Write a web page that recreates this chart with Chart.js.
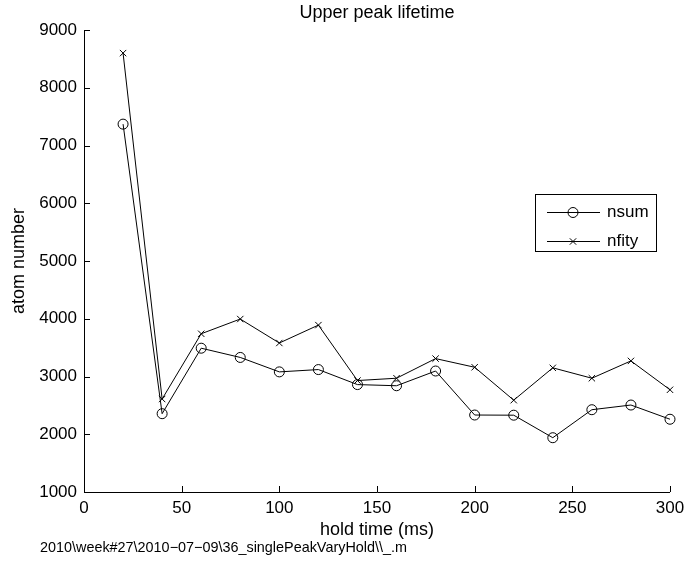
<!DOCTYPE html>
<html>
<head>
<meta charset="utf-8">
<title>Upper peak lifetime</title>
<script src="https://cdn.jsdelivr.net/npm/chart.js@4.4.0/dist/chart.umd.min.js"></script>
<style>
    html, body { margin: 0; padding: 0; background: #fff; }
    #wrap { width: 685px; height: 563px; position: relative; }
</style>
</head>
<body>
<div id="wrap"><canvas id="lifetimeChart"></canvas></div>
<script>
// Data
const holdTime = [20, 40, 60, 80, 100, 120, 140, 160, 180, 200, 220, 240, 260, 280, 300];
const nsum = [7370, 2356, 3490, 3330, 3080, 3120, 2860, 2840, 3095, 2333, 2330, 1940, 2425, 2506, 2260];
const nfity = [8600, 2610, 3740, 3995, 3580, 3890, 2930, 2970, 3310, 3160, 2590, 3150, 2970, 3270, 2770];
const xTicks = [0, 50, 100, 150, 200, 250, 300];
const yTicks = [1000, 2000, 3000, 4000, 5000, 6000, 7000, 8000, 9000];

const titleText = 'Upper peak lifetime';
const xLabel = 'hold time (ms)';
const yLabel = 'atom number';
const footerText = '2010\\week#27\\2010\u221207\u221209\\36_singlePeakVaryHold\\\\_.m';

const FONT = "'Liberation Sans', Arial, Helvetica, sans-serif";

function toPoints(xs, ys) {
    return xs.map((x, i) => ({ x: x, y: ys[i] }));
}

// matlab style axes (left + bottom, inward ticks), texts and legend box
const matlabDecor = {
    id: 'matlabDecor',
    afterDraw(chart) {
        const ctx = chart.ctx;
        const area = chart.chartArea;
        const xs = chart.scales.x;
        const ys = chart.scales.y;
        ctx.save();
        ctx.strokeStyle = '#000';
        ctx.lineWidth = 1;
        ctx.beginPath();
        ctx.moveTo(area.left + 0.5, area.top);
        ctx.lineTo(area.left + 0.5, area.bottom + 0.5);
        ctx.lineTo(area.right, area.bottom + 0.5);
        xTicks.forEach(v => {
            const px = Math.round(xs.getPixelForValue(v)) + 0.5;
            ctx.moveTo(px, area.bottom);
            ctx.lineTo(px, area.bottom - 6);
        });
        yTicks.forEach(v => {
            const py = Math.round(ys.getPixelForValue(v)) + 0.5;
            ctx.moveTo(area.left, py);
            ctx.lineTo(area.left + 6, py);
        });
        ctx.stroke();

        ctx.fillStyle = '#000';
        ctx.textAlign = 'center';
        ctx.textBaseline = 'middle';
        ctx.font = '18px ' + FONT;
        const cx = (area.left + area.right) / 2;
        ctx.fillText(titleText, cx, 13);
        ctx.fillText(xLabel, cx, 530);
        ctx.save();
        ctx.translate(19, (area.top + area.bottom) / 2);
        ctx.rotate(-Math.PI / 2);
        ctx.fillText(yLabel, 0, 0);
        ctx.restore();

        ctx.textAlign = 'left';
        ctx.font = '14.4px ' + FONT;
        ctx.fillText(footerText, 40, 548);

        // legend
        ctx.strokeRect(535.5, 194.5, 121, 57);
        const rows = [212, 241];
        chart.data.datasets.forEach((ds, i) => {
            const y = rows[i] + 0.5;
            ctx.beginPath();
            ctx.moveTo(547, y);
            ctx.lineTo(600, y);
            ctx.stroke();
            ctx.fillStyle = 'rgba(0,0,0,0)';
            Chart.helpers.drawPoint(ctx, {
                pointStyle: ds.pointStyle,
                radius: ds.pointRadius,
                borderWidth: 1
            }, 573, y);
            ctx.fillStyle = '#000';
            ctx.font = '17px ' + FONT;
            ctx.fillText(ds.label, 607, rows[i]);
        });
        ctx.restore();
    }
};

new Chart(document.getElementById('lifetimeChart'), {
    type: 'line',
    data: {
        datasets: [
            {
                label: 'nsum',
                data: toPoints(holdTime, nsum),
                borderColor: '#000',
                backgroundColor: 'rgba(0,0,0,0)',
                borderWidth: 1,
                pointStyle: 'circle',
                pointRadius: 5,
                pointBorderWidth: 1,
                pointBorderColor: '#000',
                pointBackgroundColor: 'rgba(0,0,0,0)',
                tension: 0,
                clip: false
            },
            {
                label: 'nfity',
                data: toPoints(holdTime, nfity),
                borderColor: '#000',
                backgroundColor: 'rgba(0,0,0,0)',
                borderWidth: 1,
                pointStyle: 'crossRot',
                pointRadius: 4.5,
                pointBorderWidth: 1,
                pointBorderColor: '#000',
                tension: 0,
                clip: false
            }
        ]
    },
    options: {
        responsive: true,
        maintainAspectRatio: false,
        animation: false,
        layout: { padding: { left: 0, right: 15, top: 30, bottom: 0 } },
        plugins: {
            legend: { display: false },
            title: { display: false },
            tooltip: { enabled: false }
        },
        scales: {
            x: {
                type: 'linear',
                min: 0,
                max: 300,
                afterBuildTicks: s => { s.ticks = xTicks.map(v => ({ value: v })); },
                afterFit: s => { s.height = 71; s.paddingLeft = 0; s.paddingRight = 0; },
                grid: { display: false, drawTicks: false },
                border: { display: false },
                ticks: {
                    color: '#000',
                    padding: 6,
                    maxRotation: 0,
                    font: { family: FONT, size: 17 }
                }
            },
            y: {
                type: 'linear',
                min: 1000,
                max: 9000,
                afterBuildTicks: s => { s.ticks = yTicks.map(v => ({ value: v })); },
                afterFit: s => { s.width = 84; s.paddingTop = 0; s.paddingBottom = 0; },
                grid: { display: false, drawTicks: false },
                border: { display: false },
                ticks: {
                    color: '#000',
                    padding: 7,
                    callback: v => String(v),
                    font: { family: FONT, size: 17 }
                }
            }
        }
    },
    plugins: [matlabDecor]
});
</script>
</body>
</html>
